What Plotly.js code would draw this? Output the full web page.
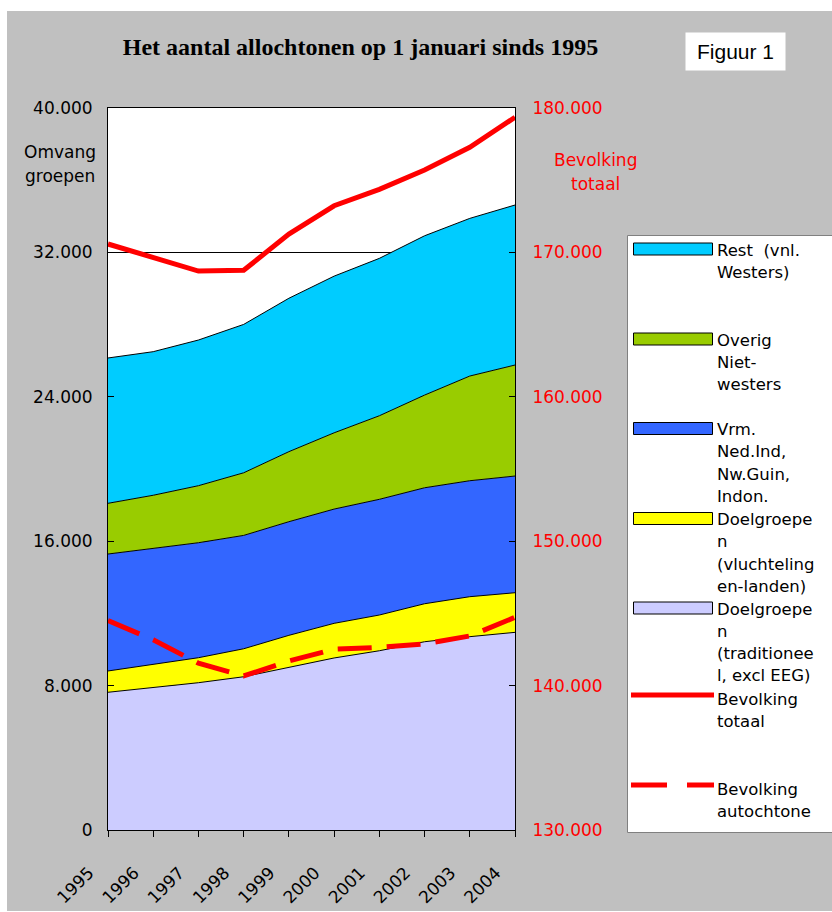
<!DOCTYPE html>
<html>
<head>
<meta charset="utf-8">
<script src="https://cdn.plot.ly/plotly-3.0.1.min.js"></script>
<style>
  html, body { margin: 0; padding: 0; background: #ffffff; }
  #chart { position: absolute; left: 7px; top: 11px; width: 825px; height: 900px; }
</style>
</head>
<body>
<div id="chart"></div>
<script>
// ---- data ----
const years = [1995, 1996, 1997, 1998, 1999, 2000, 2001, 2002, 2003, 2004];
const yearLabels = ['1995', '1996', '1997', '1998', '1999', '2000', '2001', '2002', '2003', '2004'];

const tradValues   = [7630, 7880, 8160, 8490, 9010, 9530, 9930, 10430, 10710, 10950];
const vluchtValues = [1180, 1300, 1385, 1550, 1775, 1920, 1980, 2105, 2215, 2195];
const vrmValues    = [6480, 6405, 6370, 6280, 6295, 6330, 6410, 6425, 6425, 6465];
const overigValues = [2810, 2960, 3160, 3470, 3880, 4225, 4630, 5135, 5800, 6150];
const restValues   = [8050, 7955, 8070, 8220, 8500, 8680, 8720, 8825, 8735, 8865];

const totaalValues     = [170580, 169660, 168710, 168760, 171270, 173230, 174370, 175710, 177280, 179360];
const autochtoonValues = [144500, 143180, 141550, 140670, 141700, 142520, 142650, 142880, 143440, 144730];

const leftTickVals  = [0, 8000, 16000, 24000, 32000, 40000];
const leftTickText  = ['0', '8.000', '16.000', '24.000', '32.000', '40.000'];
const rightTickVals = [130000, 140000, 150000, 160000, 170000, 180000];
const rightTickText = ['130.000', '140.000', '150.000', '160.000', '170.000', '180.000'];

const seriesNames = {
  rest: 'Rest (vnl. Westers)',
  overig: 'Overig Niet-westers',
  vrm: 'Vrm. Ned.Ind, Nw.Guin, Indon.',
  vlucht: 'Doelgroepen (vluchtelingen-landen)',
  trad: 'Doelgroepen (traditioneel, excl EEG)',
  totaal: 'Bevolking totaal',
  auto: 'Bevolking autochtonen'
};
const legendLines = {
  rest: ['Rest  (vnl.', 'Westers)'],
  overig: ['Overig', 'Niet-', 'westers'],
  vrm: ['Vrm.', 'Ned.Ind,', 'Nw.Guin,', 'Indon.'],
  vlucht: ['Doelgroepe', 'n', '(vluchteling', 'en-landen)'],
  trad: ['Doelgroepe', 'n', '(traditionee', 'l, excl EEG)'],
  totaal: ['Bevolking', 'totaal'],
  auto: ['Bevolking', 'autochtone']
};

// ---- styles ----
const colors = {
  trad: '#ccccff', vlucht: '#ffff00', vrm: '#3366ff', overig: '#99cc00', rest: '#00ccff', red: '#ff0000'
};
const FONT = 'DejaVu Sans, Verdana, sans-serif';
const LEG_SIZE = 16.5;
const LEG_STEP = 22.3;
const PAD = '\u00a0\u00a0\u00a0\u00a0\u00a0'; // pushes rotated year labels down-left, away from the ticks

// page-pixel -> paper coordinate helpers (div at 7,11; plot area 108..515 x 108..830)
const PL = 108, PR = 515, PT = 108, PB = 830;
const px = X => (X - PL) / (PR - PL);
const py = Y => (PB - Y) / (PB - PT);

function areaTrace(key, vals) {
  return {
    x: years, y: vals, name: seriesNames[key], type: 'scatter', mode: 'lines',
    stackgroup: 'allo', fillcolor: colors[key],
    line: { color: '#000000', width: 1 }, hoverinfo: 'skip'
  };
}

const traces = [
  areaTrace('trad', tradValues),
  areaTrace('vlucht', vluchtValues),
  areaTrace('vrm', vrmValues),
  areaTrace('overig', overigValues),
  areaTrace('rest', restValues),
  { x: years, y: totaalValues, name: seriesNames.totaal, type: 'scatter', mode: 'lines', yaxis: 'y2',
    line: { color: colors.red, width: 5 }, hoverinfo: 'skip' },
  { x: years, y: autochtoonValues, name: seriesNames.auto, type: 'scatter', mode: 'lines', yaxis: 'y2',
    line: { color: colors.red, width: 5, dash: '34px,15px' }, hoverinfo: 'skip' }
];

const annotations = [];
const shapes = [];

function textLines(lines, X, Y0, step, opts) {
  lines.forEach((t, i) => {
    annotations.push(Object.assign({
      xref: 'paper', yref: 'paper', x: px(X), y: py(Y0 + i * step),
      text: t, showarrow: false, xanchor: 'left', yanchor: 'middle',
      font: { family: FONT, size: LEG_SIZE, color: '#000000' }, borderpad: 0
    }, opts || {}));
  });
}

// left axis caption
textLines(['Omvang', 'groepen'], 60, 152, 24, { xanchor: 'center', font: { family: FONT, size: 17, color: '#000000' } });
// right axis caption
textLines(['Bevolking', 'totaal'], 595, 160, 24, { xanchor: 'center', font: { family: FONT, size: 17, color: colors.red } });

// Figuur 1 box
annotations.push({
  xref: 'paper', yref: 'paper', x: px(735.5), y: py(51.5), xanchor: 'center', yanchor: 'middle',
  text: 'Figuur 1', showarrow: false, bgcolor: '#ffffff', width: 99, height: 37, borderpad: 0,
  font: { family: 'Liberation Sans, Arial, sans-serif', size: 21, color: '#000000' }
});

// manual legend
shapes.push({ type: 'rect', xref: 'paper', yref: 'paper', x0: px(627.5), x1: px(880), y0: py(235.5), y1: py(832.5),
  fillcolor: '#ffffff', line: { color: '#808080', width: 1 }, layer: 'above' });
const rectItems = [['rest', 243], ['overig', 333], ['vrm', 422.5], ['vlucht', 512.5], ['trad', 602]];
rectItems.forEach(([key, top]) => {
  shapes.push({ type: 'rect', xref: 'paper', yref: 'paper', x0: px(633.5), x1: px(712.5), y0: py(top), y1: py(top + 12),
    fillcolor: colors[key], line: { color: '#000000', width: 1 }, layer: 'above' });
  textLines(legendLines[key], 716, top + 7, LEG_STEP);
});
shapes.push({ type: 'line', xref: 'paper', yref: 'paper', x0: px(631), x1: px(714), y0: py(695), y1: py(695),
  line: { color: colors.red, width: 5 }, layer: 'above' });
textLines(legendLines.totaal, 716, 699, LEG_STEP);
shapes.push({ type: 'line', xref: 'paper', yref: 'paper', x0: px(631), x1: px(714), y0: py(785), y1: py(785),
  line: { color: colors.red, width: 5, dash: '36px,20px' }, layer: 'above' });
textLines(legendLines.auto, 716, 789, LEG_STEP);

const layout = {
  width: 825, height: 900,
  margin: { l: 101, r: 317, t: 97, b: 81 },
  paper_bgcolor: '#c0c0c0', plot_bgcolor: '#ffffff',
  showlegend: false,
  title: {
    text: '<b>Het aantal allochtonen op 1 januari sinds 1995</b>',
    font: { family: 'Liberation Serif, Times New Roman, serif', size: 24, color: '#000000' },
    xref: 'paper', x: px(360.5), xanchor: 'center',
    yref: 'container', y: 1 - (47 - 11) / 900, yanchor: 'middle'
  },
  xaxis: {
    range: [1995, 2004], tickvals: years, ticktext: yearLabels.map(t => t + PAD), tickangle: -45,
    ticks: 'outside', ticklen: 6, tickcolor: '#000000', tickwidth: 1,
    showline: true, linecolor: '#000000', linewidth: 1, mirror: true,
    showgrid: false, zeroline: false,
    tickfont: { family: FONT, size: 17, color: '#000000' }
  },
  yaxis: {
    range: [0, 40000], tickvals: leftTickVals, ticktext: leftTickText,
    ticks: 'inside', ticklen: 6, tickcolor: '#000000', tickwidth: 1,
    showline: true, linecolor: '#000000', linewidth: 1,
    showgrid: true, gridcolor: '#000000', gridwidth: 1, zeroline: false,
    ticklabelstandoff: 11,
    tickfont: { family: FONT, size: 17, color: '#000000' }
  },
  yaxis2: {
    range: [130000, 180000], tickvals: rightTickVals, ticktext: rightTickText,
    overlaying: 'y', side: 'right',
    ticks: 'inside', ticklen: 6, tickcolor: '#000000', tickwidth: 1,
    showline: true, linecolor: '#000000', linewidth: 1,
    showgrid: false, zeroline: false,
    ticklabelstandoff: 13,
    tickfont: { family: FONT, size: 17, color: colors.red }
  },
  annotations: annotations,
  shapes: shapes
};

Plotly.newPlot('chart', traces, layout, { displayModeBar: false, staticPlot: true });
</script>
</body>
</html>
